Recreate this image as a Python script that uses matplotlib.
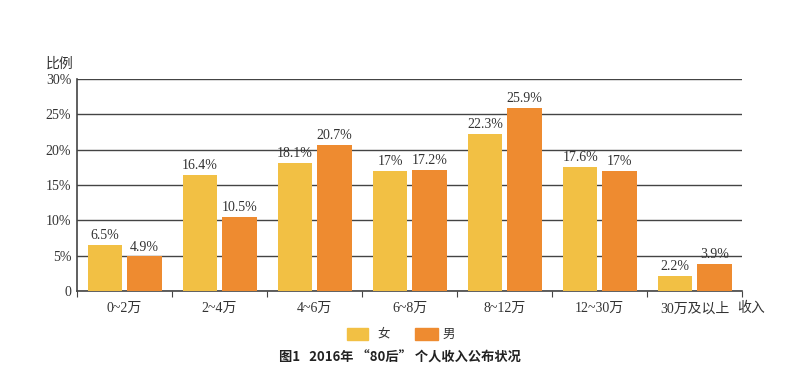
import numpy as np
import matplotlib.pyplot as plt

categories = ["0~2万", "2~4万", "4~6万", "6~8万", "8~12万", "12~30万", "30万及以上"]
female = [6.5, 16.4, 18.1, 17.0, 22.3, 17.6, 2.2]
male = [4.9, 10.5, 20.7, 17.2, 25.9, 17.0, 3.9]
female_labels = ["6.5%", "16.4%", "18.1%", "17%", "22.3%", "17.6%", "2.2%"]
male_labels = ["4.9%", "10.5%", "20.7%", "17.2%", "25.9%", "17%", "3.9%"]
yticks = [0, 5, 10, 15, 20, 25, 30]
ytick_labels = ["0", "5%", "10%", "15%", "20%", "25%", "30%"]

fam = ["Liberation Serif", "Noto Sans CJK SC"]
cjk = ["Noto Sans CJK SC", "DejaVu Sans"]
c_f = "#F2C044"
c_m = "#EE8B30"

fig = plt.figure(figsize=(8, 3.77), dpi=100)
ax = fig.add_axes([0.096, 0.228, 0.832, 0.562])

x = np.arange(len(categories)) + 0.5
ax.bar(x - 0.205, female, width=0.36, color=c_f, zorder=3)
ax.bar(x + 0.21, male, width=0.37, color=c_m, zorder=3)

for xi, v, s in zip(x, female, female_labels):
    ax.text(xi - 0.205, v + 0.4, s, ha="center", va="bottom", fontsize=10,
            family=fam, color="#333333")
for xi, v, s in zip(x, male, male_labels):
    ax.text(xi + 0.21, v + 0.4, s, ha="center", va="bottom", fontsize=10,
            family=fam, color="#333333")

ax.set_xlim(0, 7)
ax.set_ylim(0, 30)
ax.set_yticks(yticks)
ax.set_yticklabels(ytick_labels, family=fam, fontsize=10, color="#333333")
ax.yaxis.grid(True, color="#444444", linewidth=1, zorder=0)
ax.tick_params(axis="y", length=0, pad=4)

ax.set_xticks(np.arange(0, 8))
ax.set_xticklabels([])
ax.set_xticks(x, minor=True)
ax.set_xticklabels(categories, minor=True, family=fam, fontsize=10, color="#333333")
ax.tick_params(axis="x", which="major", length=4, direction="out", color="#444444")
ax.tick_params(axis="x", which="minor", length=0, pad=8)

for s in ["top", "right"]:
    ax.spines[s].set_visible(False)
for s in ["left", "bottom"]:
    ax.spines[s].set_color("#444444")
    ax.spines[s].set_linewidth(1.2)

fig.text(0.057, 0.832, "比例", family=cjk, fontsize=10, color="#333333", va="center")
fig.text(0.922, 0.183, "收入", family=cjk, fontsize=10, color="#333333", va="center")

# legend
fig.patches.append(plt.Rectangle((0.434, 0.098), 0.026, 0.032, transform=fig.transFigure,
                                 color=c_f))
fig.text(0.472, 0.114, "女", family=cjk, fontsize=9, color="#333333", va="center")
fig.patches.append(plt.Rectangle((0.519, 0.098), 0.028, 0.032, transform=fig.transFigure,
                                 color=c_m))
fig.text(0.553, 0.114, "男", family=cjk, fontsize=9, color="#333333", va="center")

fig.text(0.5, 0.052, "图1   2016年 “80后” 个人收入公布状况", family=cjk, fontsize=9.5,
         fontweight="bold", ha="center", va="center", color="#222222")

fig.savefig("out.png", dpi=100)
